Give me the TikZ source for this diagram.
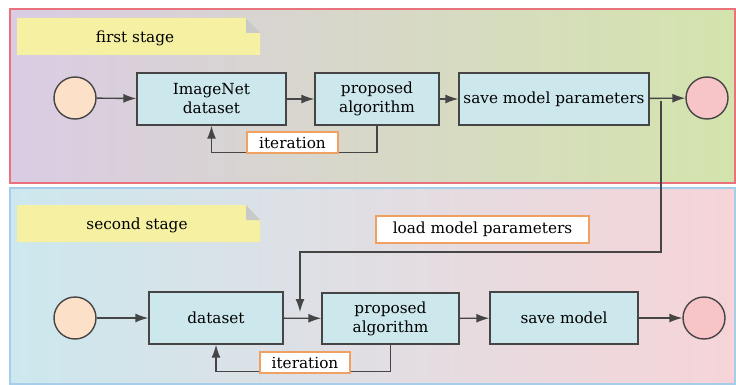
\documentclass[tikz,border=0pt]{standalone}
\usepackage{fontspec}
\setmainfont{DejaVu Serif}
\usetikzlibrary{arrows.meta}
\definecolor{linec}{HTML}{454545}
\definecolor{boxc}{HTML}{CDE8EC}
\definecolor{tagc}{HTML}{F0A060}
\definecolor{notec}{HTML}{F5F0A2}
\definecolor{foldc}{HTML}{C9C9C9}
\definecolor{startc}{HTML}{FCE0C8}
\definecolor{endc}{HTML}{F7C4C8}
\definecolor{redframe}{HTML}{E8737C}
\definecolor{blueframe}{HTML}{A6CDEA}
\tikzset{
  txt/.style={font=\fontsize{15.3}{19}\selectfont},
  stepbox/.style={txt, draw=linec, fill=boxc, line width=1.4pt, inner sep=0pt, align=center},
  terminal/.style={circle, draw=linec, line width=1.4pt, minimum size=42pt, inner sep=0pt},
  tag/.style={txt, draw=tagc, fill=white, line width=1.4pt, inner sep=0pt, align=center},
  arr/.style={draw=linec, line width=1.4pt, -{Latex[length=13pt,width=9pt]}},
}
\begin{document}
\begin{tikzpicture}[x=1pt,y=-1pt]
\useasboundingbox (0,0) rectangle (736,385);
\fill[white] (0,0) rectangle (736,385);

% stage panels
\shade[left color={rgb,255:red,218;green,204;blue,228}, middle color={rgb,255:red,224;green,224;blue,222}, right color={rgb,255:red,212;green,228;blue,172}]
  (10,9) rectangle (735,183);
\draw[redframe, line width=2pt] (10,9) rectangle (735,183);
\shade[left color={rgb,255:red,204;green,232;blue,238}, middle color={rgb,255:red,228;green,232;blue,234}, right color={rgb,255:red,246;green,212;blue,216}]
  (10,188) rectangle (735,384);
\draw[blueframe, line width=2pt] (10,188) rectangle (735,384);

% stage notes with folded corner
\fill[notec] (17,18) -- (246,18) -- (260,33) -- (260,55) -- (17,55) -- cycle;
\fill[foldc] (246,18) -- (260,33) -- (246,33) -- cycle;
\node[txt] (note1) at (135,38) {first stage};
\fill[notec] (17,205) -- (246,205) -- (260,220) -- (260,242) -- (17,242) -- cycle;
\fill[foldc] (246,205) -- (260,220) -- (246,220) -- cycle;
\node[txt] (note2) at (137,225) {second stage};

% first stage
\node[terminal, fill=startc] (start1) at (75,98) {};
\node[stepbox, minimum width=149pt, minimum height=52pt] (ds1) at (211.5,99) {ImageNet\\dataset};
\node[stepbox, minimum width=124pt, minimum height=52pt] (alg1) at (377,99) {proposed\\algorithm};
\node[stepbox, minimum width=190pt, minimum height=52pt] (save1) at (554,99) {save model parameters};
\node[terminal, fill=endc] (end1) at (707,98) {};

\draw[arr] (start1) -- (ds1);
\draw[arr] (ds1) -- (alg1);
\draw[arr] (alg1) -- (save1);
\draw[arr] (save1) -- (end1);
\draw[arr] (alg1.south) -- ++(0,27) -| (ds1.south);
\node[tag, minimum width=91pt, minimum height=21pt] (iter1) at (292.5,142.5) {iteration};

% second stage
\node[terminal, fill=startc] (start2) at (75,318) {};
\node[stepbox, minimum width=134pt, minimum height=52pt] (ds2) at (216,318) {dataset};
\node[stepbox, minimum width=137pt, minimum height=51pt] (alg2) at (390.5,318.5) {proposed\\algorithm};
\node[stepbox, minimum width=148pt, minimum height=52pt] (save2) at (564,318) {save model};
\node[terminal, fill=endc] (end2) at (704,318) {};

\draw[arr] (start2) -- (ds2);
\draw[arr] (ds2) -- (alg2);
\draw[arr] (alg2) -- (save2);
\draw[arr] (save2) -- (end2);
\draw[arr] (alg2.south) -- ++(0,27) -| (ds2.south);
\node[tag, minimum width=90pt, minimum height=21pt] (iter2) at (305,362.5) {iteration};

% parameters handed from the first stage to the second
\coordinate (tap) at (661,101);
\coordinate (drop) at (300,312);
\draw[arr] (tap) -- ++(0,151) -| (drop);
\node[tag, minimum width=213pt, minimum height=27pt] (load) at (482.5,229.5) {load model parameters};
\end{tikzpicture}
\end{document}
